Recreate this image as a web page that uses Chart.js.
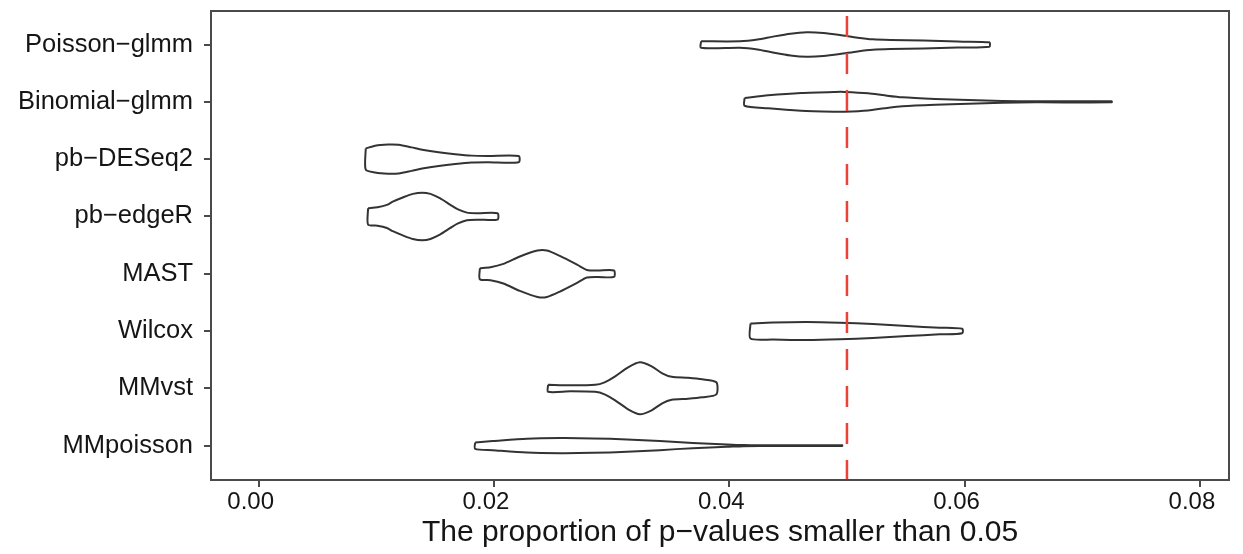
<!DOCTYPE html>
<html>
<head>
<meta charset="utf-8">
<script src="https://cdn.jsdelivr.net/npm/chart.js@4.4.1/dist/chart.umd.min.js"></script>
<style>
  body { margin: 0; background: #fff; }
  canvas { display: block; }
</style>
</head>
<body>
<canvas id="violins" width="1243" height="554"></canvas>
<script>
const methods = ["Poisson−glmm", "Binomial−glmm", "pb−DESeq2", "pb−edgeR", "MAST", "Wilcox", "MMvst", "MMpoisson"];

// Density estimates: proportion grid (X) and violin half width (D, % of row spacing)
const poissonGlmmX = [0.0376, 0.0409, 0.0424, 0.0437, 0.0452, 0.0466, 0.0480, 0.0494, 0.0509, 0.0522, 0.0537, 0.0565, 0.0594, 0.0621];
const poissonGlmmD = [5.6, 5.6, 8.6, 13.8, 19.0, 21.3, 20.1, 16.6, 12.0, 9.1, 7.9, 6.8, 5.1, 3.8];

const binomialGlmmX = [0.0413, 0.0433, 0.0461, 0.0490, 0.0498, 0.0518, 0.0532, 0.0547, 0.0575, 0.0603, 0.0632, 0.0660, 0.0725];
const binomialGlmmD = [6.8, 11.3, 15.5, 17.3, 17.3, 15.0, 11.3, 7.9, 5.1, 3.3, 1.6, 0.9, 0.9];

const pbDESeq2X = [0.0091, 0.0099, 0.0110, 0.0119, 0.0130, 0.0139, 0.0153, 0.0167, 0.0181, 0.0195, 0.0221];
const pbDESeq2D = [18.5, 23.5, 25.5, 25.0, 20.5, 16.5, 12.0, 8.6, 6.1, 5.6, 5.6];

const pbEdgeRX = [0.0093, 0.0101, 0.0109, 0.0114, 0.0123, 0.0131, 0.0139, 0.0146, 0.0154, 0.0163, 0.0169, 0.0177, 0.0186, 0.0203];
const pbEdgeRD = [14.3, 16.1, 20.1, 25.8, 33.5, 39.3, 41.5, 39.3, 31.8, 20.1, 12.6, 6.6, 5.6, 5.6];

const mastX = [0.0188, 0.0197, 0.0208, 0.0222, 0.0237, 0.0245, 0.0256, 0.0271, 0.0279, 0.0288, 0.0302];
const mastD = [9.6, 11.3, 17.1, 30.0, 40.5, 40.5, 31.1, 15.4, 6.6, 5.6, 5.6];

const wilcoxX = [0.0418, 0.0437, 0.0466, 0.0494, 0.0522, 0.0551, 0.0579, 0.0598];
const wilcoxD = [13.1, 14.8, 15.7, 14.5, 12.2, 8.7, 5.8, 3.8];

const mmVstX = [0.0246, 0.0265, 0.0286, 0.0294, 0.0303, 0.0314, 0.0324, 0.0334, 0.0343, 0.0351, 0.0365, 0.0377, 0.0389];
const mmVstD = [6.1, 5.2, 6.1, 10.5, 20.9, 36.6, 45.4, 38.4, 26.2, 20.1, 18.3, 15.7, 10.5];

const mmPoissonX = [0.0184, 0.0199, 0.0228, 0.0256, 0.0284, 0.0313, 0.0341, 0.0369, 0.0398, 0.0412, 0.0426, 0.0496];
const mmPoissonD = [5.6, 7.9, 12.0, 13.1, 12.6, 10.8, 7.9, 4.4, 2.1, 0.9, 0.5, 0.5];

const xTicks = [0, 0.02, 0.04, 0.06, 0.08];
const cutoff = 0.05;

const violinData = [
  [poissonGlmmX, poissonGlmmD],
  [binomialGlmmX, binomialGlmmD],
  [pbDESeq2X, pbDESeq2D],
  [pbEdgeRX, pbEdgeRD],
  [mastX, mastD],
  [wilcoxX, wilcoxD],
  [mmVstX, mmVstD],
  [mmPoissonX, mmPoissonD]
];

const FONT = "'Liberation Sans', Arial, Helvetica, sans-serif";
const INK = "#151515";
const FRAME = "#4a4a4a";

// closed outline: upper edge left->right, lower edge back, then close
function outline(xs, ds, row) {
  const upper = xs.map((x, i) => ({ x: x, y: row - ds[i] / 100 }));
  const lower = xs.map((x, i) => ({ x: x, y: row + ds[i] / 100 })).reverse();
  return upper.concat(lower, [upper[0]]);
}

const datasets = violinData.map(([xs, ds], row) => ({
  label: methods[row],
  data: outline(xs, ds, row),
  showLine: true,
  fill: false,
  borderColor: "#333333",
  borderWidth: 2,
  pointRadius: 0,
  tension: 0.25
}));

// dashed cutoff line + box around the panel
const panelExtras = {
  id: "panelExtras",
  afterDatasetsDraw(chart) {
    const { ctx, chartArea: a, scales } = chart;
    const x = scales.x.getPixelForValue(cutoff);
    ctx.save();
    ctx.strokeStyle = "#ec4136";
    ctx.lineWidth = 2.5;
    ctx.setLineDash([21, 16]);
    ctx.lineDashOffset = 32;
    ctx.beginPath();
    ctx.moveTo(x, a.top);
    ctx.lineTo(x, a.bottom);
    ctx.stroke();
    ctx.setLineDash([]);
    ctx.strokeStyle = FRAME;
    ctx.lineWidth = 2;
    ctx.strokeRect(a.left, a.top, a.right - a.left, a.bottom - a.top);
    ctx.restore();
  }
};

// fixed axis sizes, no extra room for label overhang
function fixX(s) {
  s.height = 74;
  s.paddingLeft = 0;
  s.paddingRight = 0;
}
function fixY(s) {
  s.width = 211;
  s.paddingTop = 0;
  s.paddingBottom = 0;
}

new Chart(document.getElementById("violins"), {
  type: "scatter",
  data: { datasets: datasets },
  plugins: [panelExtras],
  options: {
    responsive: false,
    animation: false,
    layout: { padding: { top: 11, right: 14, bottom: 0, left: 0 } },
    plugins: { legend: { display: false }, tooltip: { enabled: false } },
    scales: {
      x: {
        type: "linear",
        min: -0.00405,
        max: 0.08247,
        afterBuildTicks: s => { s.ticks = xTicks.map(v => ({ value: v })); },
        afterFit: fixX,
        ticks: {
          callback: v => v.toFixed(2),
          font: { family: FONT, size: 24 },
          color: INK,
          padding: 1,
          labelOffset: -8,
          maxRotation: 0,
          autoSkip: false
        },
        grid: { drawOnChartArea: false, tickLength: 7, color: FRAME, lineWidth: 2 },
        border: { display: false },
        title: {
          display: true,
          text: "The proportion of p−values smaller than 0.05",
          font: { family: FONT, size: 30 },
          color: INK,
          padding: { top: 0, bottom: 3 }
        }
      },
      y: {
        type: "linear",
        reverse: true,
        min: -0.585,
        max: 7.6,
        afterBuildTicks: s => { s.ticks = methods.map((m, i) => ({ value: i })); },
        afterFit: fixY,
        ticks: {
          callback: v => methods[v],
          font: { family: FONT, size: 25.5 },
          color: INK,
          padding: 11,
          autoSkip: false
        },
        grid: { drawOnChartArea: false, tickLength: 7, color: FRAME, lineWidth: 2 },
        border: { display: false }
      }
    }
  }
});
</script>
</body>
</html>
